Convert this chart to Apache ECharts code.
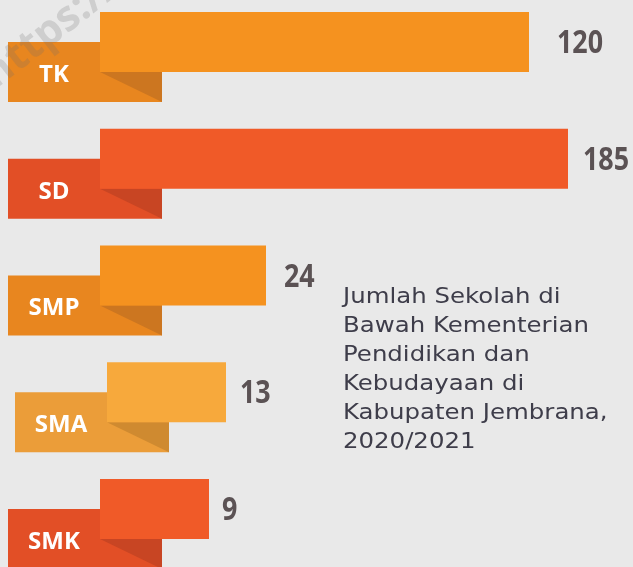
<!DOCTYPE html>
<html>
<head>
<meta charset="utf-8">
<script src="https://cdn.jsdelivr.net/npm/echarts@6/dist/echarts.min.js"></script>
<style>
  html, body { margin: 0; padding: 0; background: #e9e9e9; }
  #chart { width: 633px; height: 567px; }
</style>
</head>
<body>
<div id="chart"></div>
<script>
// jenjang sekolah dan jumlahnya
var jenjang = ['TK', 'SD', 'SMP', 'SMA', 'SMK'];
var jumlah = [120, 185, 24, 13, 9];
// panjang batang seperti di infografis (tidak proporsional dengan jumlah)
var panjangBatang = [429, 468, 166, 126, 109];

// warna per jenjang: batang, kotak label, lipatan
var warnaBatang = ['#f5921f', '#f05a28', '#f5921f', '#f7a93c', '#f05a28'];
var warnaKotak = ['#e8861f', '#e24f26', '#e8861f', '#eb9d39', '#e24f26'];
var warnaLipat = ['#cc7620', '#c84523', '#cc7620', '#cf8a30', '#c84523'];
var geserX = [0, 0, 0, 7, 0];
var jarakAngka = [28, 15, 18, 14, 13];

var chart = echarts.init(document.getElementById('chart'));

var data = [];
for (var i = 0; i < jenjang.length; i++) {
    data.push([panjangBatang[i], i, jumlah[i]]);
}

function renderItem(params, api) {
    var idx = api.value(1);
    var ujung = api.coord([api.value(0), idx]);
    var awal = api.coord([0, idx]);
    var x0 = awal[0] + geserX[idx];
    var yc = ujung[1];
    var tinggi = 60;
    var batangAtas = yc - 45;
    var kotakAtas = yc - 15;
    return {
        type: 'group',
        children: [
            {
                type: 'rect',
                shape: { x: x0 - 92, y: kotakAtas, width: 154, height: tinggi },
                style: { fill: warnaKotak[idx] }
            },
            {
                type: 'polygon',
                shape: { points: [[x0, kotakAtas + 30], [x0 + 62, kotakAtas + 30], [x0 + 62, kotakAtas + tinggi]] },
                style: { fill: warnaLipat[idx] }
            },
            {
                type: 'rect',
                shape: { x: x0, y: batangAtas, width: ujung[0] - x0, height: tinggi },
                style: { fill: warnaBatang[idx] }
            },
            {
                type: 'text',
                style: {
                    x: x0 - 46, y: kotakAtas + 33,
                    text: jenjang[idx],
                    fill: '#ffffff',
                    font: 'bold 24px "Open Sans", sans-serif',
                    align: 'center', verticalAlign: 'middle'
                }
            },
            {
                type: 'text',
                x: ujung[0] + jarakAngka[idx],
                y: batangAtas + 32,
                scaleX: 0.84,
                style: {
                    x: 0, y: 0,
                    text: String(api.value(2)),
                    fill: '#5b5254',
                    font: 'bold 32px "Open Sans", sans-serif',
                    align: 'left', verticalAlign: 'middle'
                }
            }
        ]
    };
}

var option = {
    backgroundColor: '#e9e9e9',
    animation: false,
    grid: { left: 100, top: 57, width: 500, bottom: 43 },
    xAxis: { type: 'value', min: 0, max: 500, show: false },
    yAxis: { type: 'category', data: jenjang, inverse: true, boundaryGap: false, show: false },
    graphic: [
        {
            type: 'text',
            x: 343, y: 283,
            scaleX: 1.11,
            style: {
                text: 'Jumlah Sekolah di\nBawah Kementerian\nPendidikan dan\nKebudayaan di\nKabupaten Jembrana,\n2020/2021',
                fill: '#3e3d4a',
                font: '22px "DejaVu Sans", sans-serif',
                lineHeight: 29
            }
        },
        {
            type: 'text',
            x: -12, y: 80,
            rotation: Math.PI * 0.21,
            z: 100,
            style: {
                text: 'https://',
                fill: 'rgba(110,110,110,0.22)',
                font: 'bold 42px "Open Sans", sans-serif',
                verticalAlign: 'middle'
            }
        }
    ],
    series: [
        {
            type: 'custom',
            renderItem: renderItem,
            encode: { x: 0, y: 1 },
            data: data
        }
    ]
};

chart.setOption(option);
</script>
</body>
</html>
